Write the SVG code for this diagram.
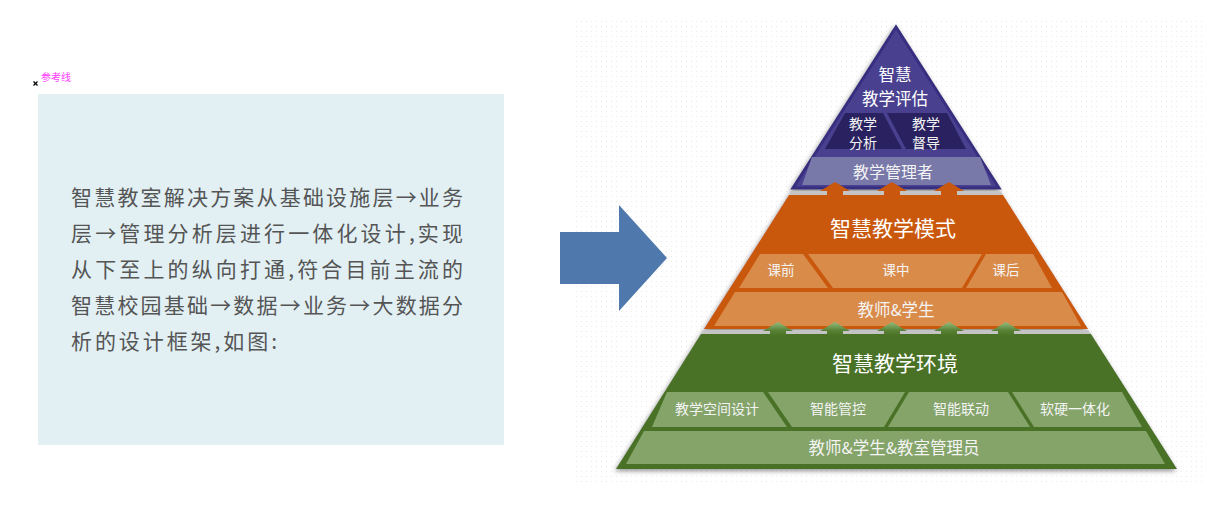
<svg xmlns="http://www.w3.org/2000/svg" width="1205" height="515" viewBox="0 0 1205 515">
<defs>
<pattern id="dots" width="5" height="5" patternUnits="userSpaceOnUse">
<rect x="1" y="1" width="1" height="1" fill="#e9e9e9"/>
</pattern>
<linearGradient id="gArrow" x1="0" y1="0" x2="0" y2="1">
<stop offset="0" stop-color="#93bd80"/>
<stop offset="0.6" stop-color="#5a8236"/>
<stop offset="1" stop-color="#4a7225"/>
</linearGradient>
<filter id="shadow" x="-10%" y="-10%" width="120%" height="125%">
<feDropShadow dx="-1" dy="2" stdDeviation="2.5" flood-color="#6e6e6e" flood-opacity="0.75"/>
</filter>
<style>
.t{font-family:"Noto Sans CJK SC","Noto Sans",sans-serif;}
.body{font-size:21px;fill:#555555;}
.w{fill:#ffffff;text-anchor:middle;}
.wl{fill:#f4f4f4;text-anchor:middle;}
.purple{fill:#4a4190;stroke:#382e80;stroke-width:3;stroke-linejoin:miter;}
.dark{fill:#2b2160;}
.lav{fill:#7878a9;}
.orange{fill:#c9580e;}
.lorange{fill:#d98b4a;}
.green{fill:#4a7225;}
.lgreen{fill:#84a46b;}
.gray{fill:#c4c4c4;}
</style>
</defs>
<rect width="1205" height="515" fill="#ffffff"/>
<rect x="576" y="18" width="629" height="467" fill="url(#dots)"/>

<g id="reference-mark">
<line x1="33.5" y1="81.5" x2="37.5" y2="85.5" stroke="#000" stroke-width="1.3"/>
<line x1="37.5" y1="81.5" x2="33.5" y2="85.5" stroke="#000" stroke-width="1.3"/>
<text class="t" x="41" y="81" font-size="10" fill="#ff3cff">参考线</text>
</g>

<g id="description">
<rect x="38" y="94" width="466" height="351" fill="#e2f0f4"/>
<text class="t body" x="71" y="205" textLength="392" lengthAdjust="spacing">智慧教室解决方案从基础设施层→业务</text>
<text class="t body" x="71" y="241" textLength="392" lengthAdjust="spacing">层→管理分析层进行一体化设计,实现</text>
<text class="t body" x="71" y="277" textLength="392" lengthAdjust="spacing">从下至上的纵向打通,符合目前主流的</text>
<text class="t body" x="71" y="313" textLength="392" lengthAdjust="spacing">智慧校园基础→数据→业务→大数据分</text>
<text class="t body" x="71" y="349" textLength="206" lengthAdjust="spacing">析的设计框架,如图:</text>
</g>

<g id="big-arrow">
<polygon points="560,232 619,232 619,205 667,258 619,311 619,284 560,284" fill="#4f79ad"/>
</g>

<g id="pyramid" filter="url(#shadow)">
<g id="layer-evaluation">
<polygon class="purple" points="896,27 999,188 793,188"/>
<polygon class="dark" points="845,113 883,113 902,149 825,149"/>
<polygon class="dark" points="887,113 947,113 966,149 906,149"/>
<polygon class="lav" points="812,157 980,157 991,185 802,185"/>
</g>
<g id="layer-mode">
<polygon class="orange" points="789,195 1003,195 1088,329 704,329"/>
<polygon class="lorange" points="760,254 803,254 828,288 739,288"/>
<polygon class="lorange" points="808,254 982,254 962,288 833,288"/>
<polygon class="lorange" points="986,254 1033,254 1052,288 966,288"/>
<polygon class="lorange" points="735,292 1062,292 1081,326 714,326"/>
</g>
<g id="layer-environment">
<polygon class="green" points="701,334 1091,334 1177,469 616,469"/>
<polygon class="lgreen" points="667,392 763,392 787,427 652,427"/>
<polygon class="lgreen" points="768,392 905,392 884,427 792,427"/>
<polygon class="lgreen" points="909,392 1008,392 1030,427 888,427"/>
<polygon class="lgreen" points="1012,392 1122,392 1142,427 1034,427"/>
<polygon class="lgreen" points="644,431 1146,431 1165,464 626,464"/>
</g>
<polygon class="gray" points="792,191 1000,191 1003,195 789,195"/>
<polygon class="gray" points="704,330 1088,330 1091,334 701,334"/>
</g>

<g id="connectors">
<path class="orange" d="M835,182 L850,191 L843,191 L843,197 L827,197 L827,191 L820,191 Z"/>
<path class="orange" d="M892,182 L907,191 L900,191 L900,197 L884,197 L884,191 L877,191 Z"/>
<path class="orange" d="M949,182 L964,191 L957,191 L957,197 L941,197 L941,191 L934,191 Z"/>
<path fill="url(#gArrow)" d="M778,322 L793,331 L786,331 L786,336 L770,336 L770,331 L763,331 Z"/>
<path fill="url(#gArrow)" d="M835,322 L850,331 L843,331 L843,336 L827,336 L827,331 L820,331 Z"/>
<path fill="url(#gArrow)" d="M892,322 L907,331 L900,331 L900,336 L884,336 L884,331 L877,331 Z"/>
<path fill="url(#gArrow)" d="M949,322 L964,331 L957,331 L957,336 L941,336 L941,331 L934,331 Z"/>
<path fill="url(#gArrow)" d="M1006,322 L1021,331 L1014,331 L1014,336 L998,336 L998,331 L991,331 Z"/>
</g>

<g id="labels">
<text class="t w" x="895" y="80.5" font-size="16.5">智慧</text>
<text class="t w" x="895" y="104.5" font-size="16.5">教学评估</text>
<text class="t wl" font-size="14"><tspan x="863" y="129">教学</tspan><tspan x="863" y="148">分析</tspan></text>
<text class="t wl" font-size="14"><tspan x="926" y="129">教学</tspan><tspan x="926" y="148">督导</tspan></text>
<text class="t wl" x="893" y="178" font-size="16">教学管理者</text>
<text class="t w" x="893" y="236" font-size="21">智慧教学模式</text>
<text class="t wl" x="781" y="275" font-size="13.5">课前</text>
<text class="t wl" x="896" y="275" font-size="13.5">课中</text>
<text class="t wl" x="1006" y="275" font-size="13.5">课后</text>
<text class="t wl" x="896" y="316" font-size="16.5">教师&amp;学生</text>
<text class="t w" x="895" y="371" font-size="21">智慧教学环境</text>
<text class="t wl" x="717" y="414" font-size="14">教学空间设计</text>
<text class="t wl" x="838" y="414" font-size="14">智能管控</text>
<text class="t wl" x="961" y="414" font-size="14">智能联动</text>
<text class="t wl" x="1075" y="414" font-size="14">软硬一体化</text>
<text class="t wl" x="894" y="454" font-size="16.5">教师&amp;学生&amp;教室管理员</text>
</g>
</svg>
